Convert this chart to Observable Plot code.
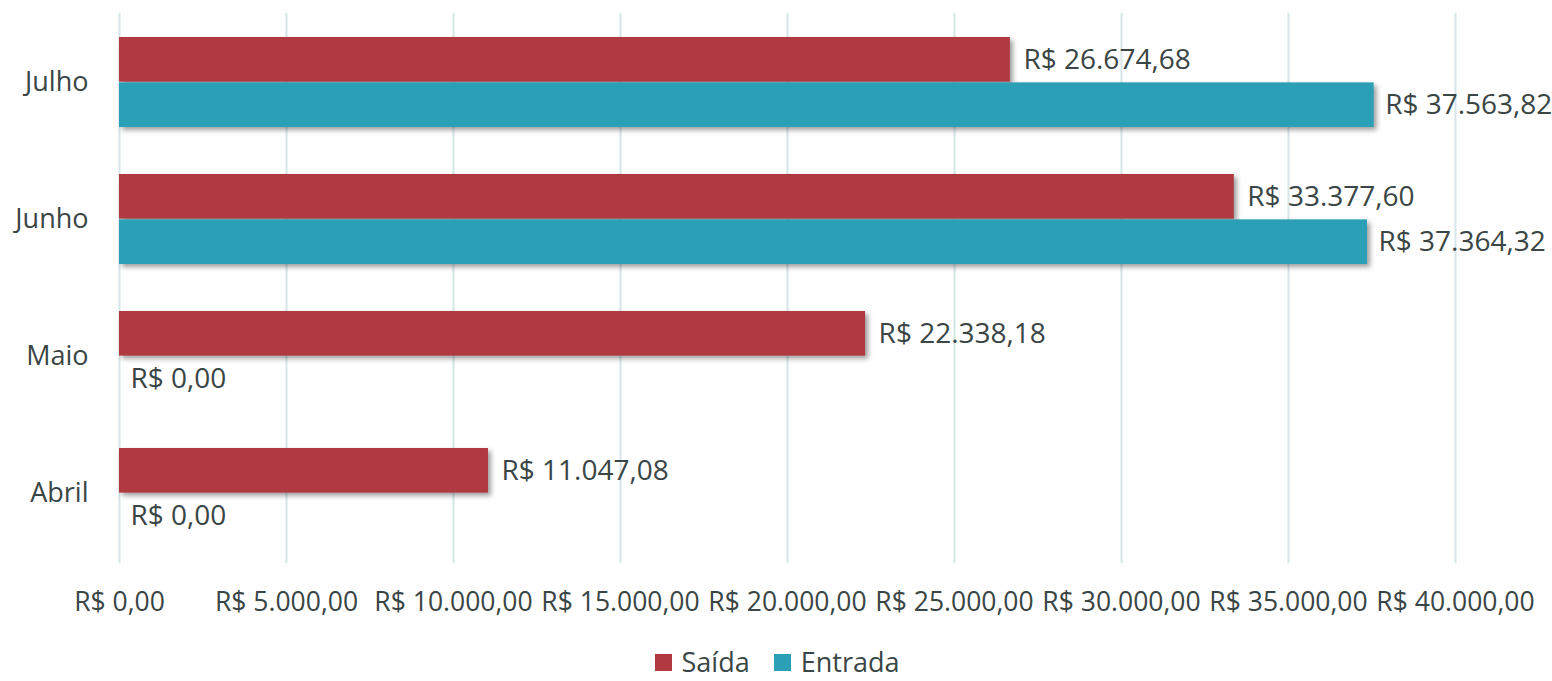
<!DOCTYPE html>
<html>
<head>
<meta charset="utf-8">
<script src="https://cdn.jsdelivr.net/npm/d3@7"></script>
<script src="https://cdn.jsdelivr.net/npm/@observablehq/plot@0.6"></script>
<style>
  html, body { margin: 0; padding: 0; background: #fff; }
  body { width: 1552px; height: 681px; overflow: hidden; font-family: "Open Sans", sans-serif; }
  #chart svg { display: block; }
  #chart svg g[aria-label="bar"] rect { filter: drop-shadow(3px 3px 2.5px rgba(0,0,0,0.38)); }
  #chart svg g[aria-label="y-axis tick label"] text { font-size: 27px; }
  .legend { box-sizing: border-box; display: flex; justify-content: center; align-items: center; height: 41px; padding-top: 4px; font-size: 27px; line-height: 1.2; color: #3a4545; margin-left: 2px; }
  .legend .item { display: flex; align-items: center; margin: 0 12px; }
  .legend .sw { width: 17px; height: 17px; margin-right: 10px; }
</style>
</head>
<body>
<div id="chart"></div>
<div class="legend" id="legend"></div>
<script>
const months = ["Julho", "Junho", "Maio", "Abril"];
const series = ["Saída", "Entrada"];
const saida = [26674.68, 33377.60, 22338.18, 11047.08];
const entrada = [37563.82, 37364.32, 0, 0];
const xTicks = [0, 5000, 10000, 15000, 20000, 25000, 30000, 35000, 40000];
const colors = ["#b03a40", "#2a9fb6"];

const fmt = v => "R$ " + v.toLocaleString("pt-BR", {minimumFractionDigits: 2, maximumFractionDigits: 2});

const data = [];
months.forEach((m, i) => {
  data.push({month: m, series: series[0], value: saida[i]});
  data.push({month: m, series: series[1], value: entrada[i]});
});

const W = 1552, H = 640, mt = 13, mb = 77, ml = 119, mr = 97;
const yBand = d3.scaleBand().domain(months).range([mt, H - mb]).paddingInner(0.34).paddingOuter(0.17);
const half = yBand.bandwidth() / 2;

const saidaRows = data.filter(d => d.series === series[0]);
const entradaRows = data.filter(d => d.series === series[1]);

const plot = Plot.plot({
  width: W, height: H,
  marginTop: mt, marginBottom: mb, marginLeft: ml, marginRight: mr,
  style: {fontFamily: "Open Sans, sans-serif", fontSize: "26.5px", color: "#3a4545", background: "#fff"},
  x: {domain: [0, 40000], ticks: xTicks, tickFormat: fmt, tickSize: 0, tickPadding: 29, label: null},
  y: {domain: months, paddingInner: 0.34, paddingOuter: 0.17, tickSize: 0, tickPadding: 31, label: null},
  marks: [
    Plot.ruleX(xTicks, {x: d => d, stroke: "#d5e6e8", strokeWidth: 2}),
    Plot.barX(saidaRows, {x: "value", y: "month", fill: colors[0], insetBottom: half}),
    Plot.barX(entradaRows, {x: "value", y: "month", fill: colors[1], insetTop: half}),
    Plot.text(saidaRows, {x: "value", y: "month", text: d => fmt(d.value), dy: -half / 2, dx: 13, textAnchor: "start", fill: "#3a4545", fontSize: 28}),
    Plot.text(entradaRows, {x: "value", y: "month", text: d => fmt(d.value), dy: half / 2, dx: 11, textAnchor: "start", fill: "#3a4545", fontSize: 28})
  ]
});
document.getElementById("chart").appendChild(plot);

const legend = document.getElementById("legend");
series.forEach((s, i) => {
  const item = document.createElement("div");
  item.className = "item";
  item.innerHTML = `<span class="sw" style="background:${colors[i]}"></span><span>${s}</span>`;
  legend.appendChild(item);
});
</script>
</body>
</html>
